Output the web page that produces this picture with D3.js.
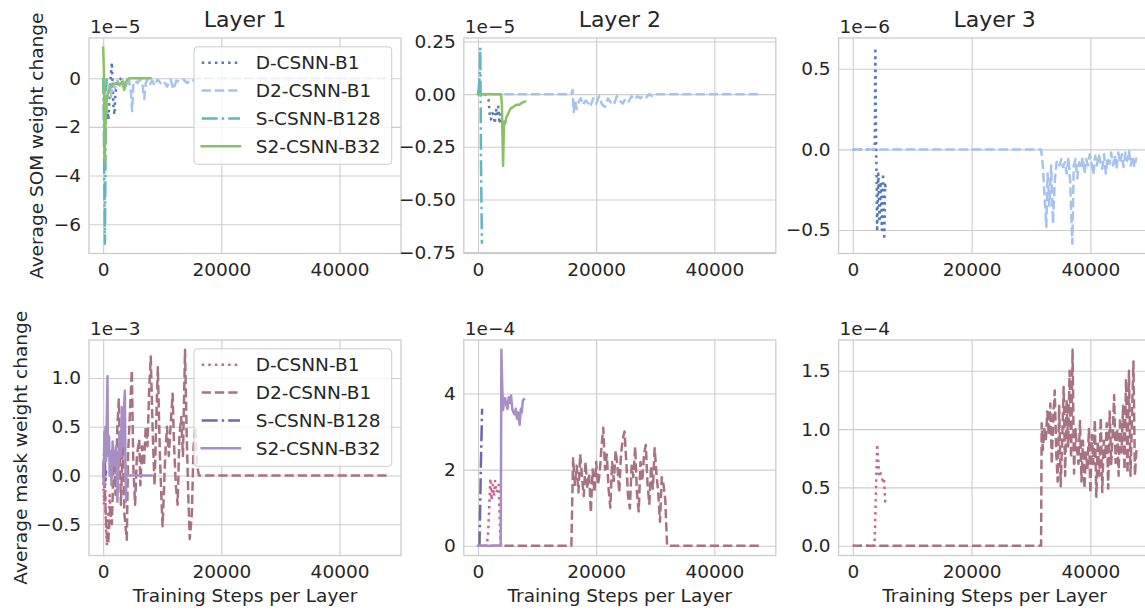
<!DOCTYPE html>
<html><head><meta charset="utf-8">
<script src="https://cdn.jsdelivr.net/npm/d3@7"></script>
<style>body{margin:0;background:#fff}svg{display:block}</style>
</head><body><svg id="c" width="1145" height="610"></svg>
<script>
// ---------- data ----------
const seriesNames = ["D-CSNN-B1","D2-CSNN-B1","S-CSNN-B128","S2-CSNN-B32"];
const somColors  = ["#5677b8","#a5c3ec","#5fb7c2","#8bc064"];
const maskColors = ["#c9668f","#a77282","#6b69a8","#a88fc3"];
const layerTitles = ["Layer 1","Layer 2","Layer 3"];
const rowLabels = ["Average SOM weight change","Average mask weight change"];
const xLabel = "Training Steps per Layer";
const xTicks = [0,20000,40000];
const xTickLabels = ["0","20000","40000"];
const offsetLabels = [["1e\u22125","1e\u22125","1e\u22126"],["1e\u22123","1e\u22124","1e\u22124"]];
const yTicks = [
  [[-6,-4,-2,0],[-0.75,-0.5,-0.25,0,0.25],[-0.5,0,0.5]],
  [[-0.5,0,0.5,1.0],[0,2,4],[0,0.5,1.0,1.5]]
];
const yTickLabels = [
  [["\u22126","\u22124","\u22122","0"],["\u22120.75","\u22120.50","\u22120.25","0.00","0.25"],["\u22120.5","0.0","0.5"]],
  [["\u22120.5","0.0","0.5","1.0"],["0","2","4"],["0.0","0.5","1.0","1.5"]]
];

// Layer 1, SOM (x1e-5)
const som1_D = [[0,0],[150,-0.4],[300,-0.9],[450,-1.4],[600,-1.65],[750,-1.3],[900,-1.7],[1050,-0.9],[1200,-0.2],[1350,0.3],[1470,0.65],[1600,-0.3],[1750,-1.2],[1900,-1.5],[2050,-0.7],[2250,-0.3],[2500,-0.1],[2800,-0.05],[3100,0]];
const som1_D2 = [[0,0],[200,-0.6],[400,-1.8],[600,-1.2],[800,-0.5],[1000,-0.3],[1300,-0.8],[1600,-0.2],[2000,-0.4],[2400,-0.1],[2800,-0.3],[3200,-0.05],[3600,-0.2],[4000,-0.4],[4400,-0.1],[4700,-0.6],[4900,-1.35],[5100,-0.3],[5400,-0.1],[5800,-0.2],[6200,-0.05],[6600,-0.15],[6950,-0.85],[7200,-0.2],[7500,-0.05],[7900,-0.25],[8300,-0.1],[8700,-0.3],[9200,-0.05],[9700,-0.2],[10200,-0.1],[10800,-0.35],[11400,-0.05],[11900,-0.45],[12400,-0.1],[13000,-0.15],[13600,-0.05],[14200,-0.2],[14800,-0.05],[15400,-0.1],[16000,0],[24000,0],[32000,0],[40000,0],[48000,0]];
const som1_S = [[0,0],[100,-1.5],[200,-4.5],[300,-6.8],[400,-3.0],[500,-0.5],[600,0]];
const som1_S2 = [[0,1.25],[120,0.3],[250,-3.5],[350,-2.2],[450,-1.3],[600,-0.9],[800,-0.65],[1000,-0.5],[1300,-0.35],[1600,-0.25],[2000,-0.22],[2400,-0.2],[2800,-0.28],[3200,-0.15],[3560,-0.48],[3800,-0.2],[4100,-0.05],[4500,0],[5500,0],[6500,0],[8000,0]];

// Layer 2, SOM (x1e-5)
const som2_D = [[0,0],[700,0],[1200,0],[1500,-0.01],[1780,-0.025],[2000,-0.1],[2200,-0.12],[2450,-0.09],[2650,-0.1],[2850,-0.14],[3050,-0.07],[3250,-0.1],[3450,-0.06],[3650,-0.14],[3850,-0.08]];
const som2_D2 = [[0,0],[4000,0],[8000,0],[12000,0],[15800,0],[16000,0.02],[16200,-0.085],[16400,-0.03],[16700,-0.07],[17000,-0.04],[17400,-0.02],[17800,-0.05],[18200,-0.03],[18600,-0.04],[19000,-0.06],[19500,-0.02],[20000,-0.045],[20500,-0.01],[21000,-0.05],[21500,-0.06],[22000,-0.02],[22500,-0.04],[23000,-0.05],[23500,-0.01],[24000,-0.03],[24500,-0.045],[25000,-0.02],[25500,-0.035],[26000,-0.01],[26500,-0.025],[27000,-0.01],[27500,-0.02],[28000,-0.005],[28500,-0.015],[29000,0],[29500,-0.01],[30000,0],[31000,0],[32000,0],[36000,0],[40000,0],[44000,0],[48000,0]];
const som2_S = [[0,0],[100,0.02],[200,0.05],[300,0.1],[390,0.22],[450,0.0],[520,-0.35],[600,-0.55],[670,-0.71]];
const som2_S2 = [[0,0],[1000,0],[2000,0],[3000,0],[3900,0],[4050,-0.05],[4150,-0.2],[4250,-0.34],[4350,-0.2],[4450,-0.13],[4600,-0.14],[4800,-0.11],[5000,-0.1],[5300,-0.08],[5600,-0.065],[6000,-0.06],[6500,-0.05],[7000,-0.05],[7500,-0.04],[7950,-0.035]];

// Layer 3, SOM (x1e-6)
const som3_D = [[0,0],[1000,0],[2000,0],[3000,0],[3700,0],[3800,0.63],[3950,0],[4100,-0.51],[4300,-0.15],[4500,-0.45],[4700,-0.2],[4900,-0.5],[5100,-0.15],[5300,-0.56],[5450,-0.22],[5600,-0.25]];
const som3_D2 = [[0,0],[8000,0],[16000,0],[24000,0],[31700,0],[32000,-0.1],[32300,-0.3],[32580,-0.48],[32800,-0.15],[33100,-0.35],[33400,-0.1],[33700,-0.46],[34000,-0.2],[34300,-0.08],[34540,-0.07],[34800,-0.1],[35100,-0.06],[35400,-0.11],[35700,-0.08],[36000,-0.15],[36300,-0.05],[36600,-0.2],[36960,-0.585],[37200,-0.1],[37500,-0.06],[37800,-0.18],[38100,-0.08],[38400,-0.12],[38700,-0.05],[39000,-0.15],[39300,-0.06],[39600,-0.1],[39900,-0.03],[40200,-0.09],[40500,-0.155],[40800,-0.04],[41100,-0.1],[41400,-0.03],[41700,-0.08],[42000,-0.12],[42300,-0.03],[42600,-0.15],[42900,-0.05],[43200,-0.09],[43500,-0.02],[43800,-0.1],[44100,-0.04],[44400,-0.12],[44700,-0.02],[45000,-0.08],[45300,-0.03],[45600,-0.11],[45900,-0.02],[46200,-0.07],[46500,-0.01],[46800,-0.1],[47100,-0.04],[47400,-0.11],[47750,-0.05]];

// Layer 1, mask (x1e-3)
const mask1_D = [[0,0],[150,-0.3],[300,0.1],[450,-0.5],[620,-0.72],[800,-0.4],[950,-0.6],[1100,-0.2],[1300,-0.45]];
const mask1_D2 = [[0,0.1],[300,-0.2],[600,-0.6],[850,-0.7],[1200,-0.3],[1470,-0.5],[1800,0.2],[2100,-0.2],[2400,0.5],[2650,0.78],[3000,-0.3],[3300,0.3],[3600,-0.4],[4000,-0.66],[4200,0.2],[4500,0.6],[4850,1.08],[5100,0.1],[5400,-0.3],[5700,0.2],[6100,0.37],[6300,-0.1],[6600,0.3],[6900,0.1],[7200,0.5],[7500,0.3],[7800,0.9],[8050,1.22],[8400,0.4],[8700,-0.1],[9000,0.6],[9250,1.11],[9600,0.2],[9900,-0.3],[10050,-0.52],[10500,0.2],[10800,0.5],[11100,0.2],[11400,0.5],[11750,0.84],[12000,0.3],[12300,-0.1],[12600,-0.3],[12900,0.4],[13200,0.6],[13500,0.2],[13850,1.29],[14100,0.5],[14400,-0.2],[14650,-0.65],[15000,-0.4],[15300,0.3],[15600,0.5],[15900,0.1],[16200,0],[24000,0],[32000,0],[40000,0],[48000,0]];
const mask1_S = [[0,0],[100,0.15],[200,0.35],[300,0.1],[400,-0.05],[500,0.05]];
const mask1_S2 = [[0,0.1],[100,-0.1],[200,0.45],[300,0.2],[400,0.5],[500,0.15],[730,1.02],[800,0.3],[900,0.2],[1000,0.4],[1100,0.0],[1250,0.25],[1400,-0.1],[1600,0.35],[1800,0.2],[2000,0.1],[2200,0.3],[2400,-0.27],[2600,0.1],[2800,0.45],[3000,0.2],[3150,0.7],[3300,0.3],[3450,0.6],[3670,0.87],[3750,0.2],[3850,-0.27],[3950,0.1],[4050,0],[5000,0],[6000,0],[7000,0],[8200,0]];

// Layer 2, mask (x1e-4)
const mask2_D = [[0,0],[1000,0],[1500,0],[1730,0.37],[1900,1.0],[2100,1.77],[2300,1.2],[2500,1.6],[2700,1.3],[2900,1.7],[3100,1.4],[3300,1.5],[3500,1.6],[3650,0.8],[3800,0.1],[3950,0]];
const mask2_D2 = [[0,0],[8000,0],[15800,0],[16100,2.3],[16400,1.6],[16700,2.1],[17000,1.4],[17300,2.4],[17600,1.8],[17900,1.3],[18200,2.2],[18500,1.5],[18800,1.9],[19100,0.87],[19400,2.0],[19700,1.4],[20000,2.2],[20300,1.6],[20600,1.9],[20900,2.6],[21200,3.1],[21500,2.0],[21800,2.4],[22100,1.5],[22400,1.0],[22700,2.2],[23000,1.7],[23300,2.5],[23600,2.1],[23900,1.4],[24200,2.4],[24500,2.8],[24800,3.0],[25100,2.2],[25400,1.3],[25700,0.98],[26000,2.1],[26300,1.8],[26600,2.6],[26900,1.4],[27200,0.9],[27500,2.2],[27800,1.7],[28100,2.4],[28400,2.65],[28700,1.6],[29000,1.1],[29300,2.1],[29600,1.5],[29900,2.56],[30200,1.9],[30500,1.4],[30800,0.63],[31100,1.8],[31400,1.6],[31700,1.2],[32000,0],[36000,0],[40000,0],[44000,0],[48000,0]];
const mask2_S = [[0,0],[250,0],[350,0.8],[500,2.2],[700,3.6]];
const mask2_S2 = [[0,0],[1000,0],[2000,0],[3000,0],[3850,0],[3960,5.15],[4100,4.2],[4250,3.57],[4400,3.8],[4600,3.88],[4800,3.7],[5000,3.6],[5200,3.9],[5400,3.75],[5600,3.95],[5800,3.6],[6000,3.5],[6200,3.45],[6400,3.6],[6600,3.34],[6800,3.5],[7050,3.18],[7250,3.6],[7400,3.5],[7600,3.82],[7800,3.85]];

// Layer 3, mask (x1e-4)
const mask3_D = [[0,0],[1000,0],[2000,0],[3000,0],[3660,0],[4110,0.87],[4450,0.59],[4700,0.62],[5010,0.56],[5250,0.58],[5450,0.38],[5620,0.42]];
const mask3_D2 = [[0,0],[8000,0],[16000,0],[24000,0],[31700,0],[31800,1.05],[32000,0.82],[32250,1.0],[32500,0.9],[32750,1.15],[33000,0.95],[33250,1.22],[33500,0.7],[33750,1.1],[34000,1.33],[34250,0.8],[34500,0.55],[34750,1.2],[35000,0.51],[35250,0.9],[35500,1.36],[35750,0.6],[36000,1.25],[36250,0.85],[36500,1.5],[36750,0.75],[37000,1.68],[37250,0.62],[37500,1.0],[37750,0.83],[38000,0.7],[38250,1.07],[38500,0.55],[38750,0.9],[39000,0.49],[39250,0.8],[39500,0.65],[39750,1.0],[40000,0.45],[40250,0.95],[40500,0.7],[40750,1.08],[41000,0.42],[41250,0.9],[41500,0.6],[41750,1.1],[42000,0.46],[42250,0.9],[42500,0.75],[42750,1.05],[43000,0.49],[43250,1.15],[43500,0.7],[43750,0.95],[44000,1.29],[44250,0.71],[44500,1.0],[44750,0.6],[45000,1.1],[45250,0.8],[45500,1.2],[45750,0.65],[46000,1.43],[46250,0.62],[46500,1.5],[46750,0.6],[47000,1.1],[47250,1.58],[47500,0.6],[47750,0.82]];

// ---------- layout ----------
const panels = [
  {row:0,col:0,series:[som1_D,som1_D2,som1_S,som1_S2],legend:true},
  {row:0,col:1,series:[som2_D,som2_D2,som2_S,som2_S2]},
  {row:0,col:2,series:[som3_D,som3_D2]},
  {row:1,col:0,series:[mask1_D,mask1_D2,mask1_S,mask1_S2],legend:true},
  {row:1,col:1,series:[mask2_D,mask2_D2,mask2_S,mask2_S2]},
  {row:1,col:2,series:[mask3_D,mask3_D2]}
];
const dashes = ["2.5,4.1","9.25,4","16,4,2.5,4",null];
const FONT = "'DejaVu Sans', sans-serif";
const TXT = "#262626";
const GRID = "#cccccc";
const lefts = [89, 463.8, 838.6];
const AW = 312;
const tops = [38, 340];
const AH = 215.5;
const FS = 18.5;

const svg = d3.select("#c");
svg.append("rect").attr("width",1145).attr("height",610).attr("fill","#fff");

panels.forEach((p,pi)=>{
  const colors = p.row===0 ? somColors : maskColors;
  const g = svg.append("g").attr("transform",`translate(${lefts[p.col]},${tops[p.row]})`);
  const allX = p.series.flat().map(d=>d[0]);
  const allY = p.series.flat().map(d=>d[1]);
  const [x0,x1] = d3.extent(allX), [y0,y1] = d3.extent(allY);
  const px = (x1-x0)*0.05, py = (y1-y0)*0.05;
  const x = d3.scaleLinear().domain([x0-px, x1+px]).range([0,AW]);
  const y = d3.scaleLinear().domain([y0-py, y1+py]).range([AH,0]);

  const yt = yTicks[p.row][p.col], ytl = yTickLabels[p.row][p.col];
  const ya = g.append("g").call(d3.axisLeft(y).tickValues(yt).tickFormat((d,i)=>ytl[i]).tickSize(-AW).tickPadding(8));
  const xa = g.append("g").attr("transform",`translate(0,${AH})`)
    .call(d3.axisBottom(x).tickValues(xTicks).tickFormat((d,i)=>xTickLabels[i]).tickSize(-AH).tickPadding(9));
  [ya,xa].forEach(a=>{
    a.select(".domain").remove();
    a.attr("font-family",FONT).attr("font-size",FS);
    a.selectAll("line").attr("stroke",GRID).attr("stroke-width",1.1);
    a.selectAll("text").attr("fill",TXT);
  });

  const cid = "clip"+pi;
  g.append("clipPath").attr("id",cid).append("rect").attr("width",AW).attr("height",AH);
  const lg = g.append("g").attr("clip-path",`url(#${cid})`);
  const line = d3.line().x(d=>x(d[0])).y(d=>y(d[1]));
  p.series.forEach((s,si)=>{
    lg.append("path").attr("d",line(s)).attr("fill","none")
      .attr("stroke",colors[si]).attr("stroke-width",2.5)
      .attr("stroke-linejoin","round")
      .attr("stroke-linecap", dashes[si] ? "butt" : "square")
      .attr("stroke-dasharray",dashes[si]);
  });

  g.append("rect").attr("width",AW).attr("height",AH).attr("fill","none")
    .attr("stroke",GRID).attr("stroke-width",1.3);

  // offset text
  g.append("text").attr("x",1).attr("y",-5.5).attr("font-family",FONT).attr("font-size",FS)
    .attr("fill",TXT).text(offsetLabels[p.row][p.col]);

  if (p.row===0) {
    g.append("text").attr("x",AW/2).attr("y",-11).attr("text-anchor","middle")
      .attr("font-family",FONT).attr("font-size",22).attr("fill",TXT).text(layerTitles[p.col]);
  } else {
    g.append("text").attr("x",AW/2).attr("y",AH+46).attr("text-anchor","middle")
      .attr("font-family",FONT).attr("font-size",FS).attr("fill",TXT).text(xLabel);
  }
  if (p.col===0) {
    const lx = p.row===0 ? -52 : -68;
    g.append("text").attr("transform",`translate(${lx},${AH/2}) rotate(-90)`)
      .attr("text-anchor","middle").attr("dy","0.35em")
      .attr("font-family",FONT).attr("font-size",FS).attr("fill",TXT).text(rowLabels[p.row]);
  }

  if (p.legend) {
    const L = g.append("g").attr("transform","translate(105,8.8)");
    L.append("rect").attr("width",197.7).attr("height",117.5).attr("rx",3.5)
      .attr("fill","#fff").attr("fill-opacity",0.8).attr("stroke",GRID).attr("stroke-width",1);
    seriesNames.forEach((n,i)=>{
      const cy = 16 + i*27.8;
      L.append("line").attr("x1",7.7).attr("x2",46).attr("y1",cy).attr("y2",cy)
        .attr("stroke",colors[i]).attr("stroke-width",2.5)
        .attr("stroke-linecap", dashes[i] ? "butt" : "square")
        .attr("stroke-dasharray",dashes[i]);
      L.append("text").attr("x",61.7).attr("y",cy).attr("dy","0.35em")
        .attr("font-family",FONT).attr("font-size",FS).attr("fill",TXT).text(n);
    });
  }
});
</script>
</body></html>
